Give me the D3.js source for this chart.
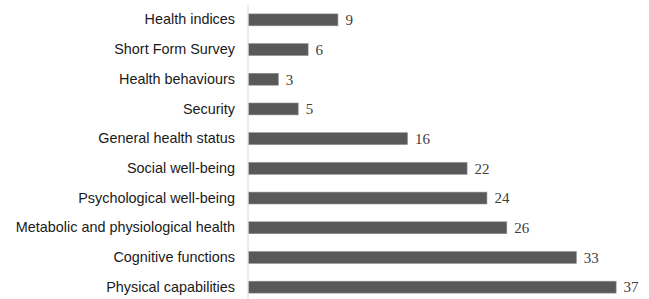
<!DOCTYPE html>
<html>
<head>
<meta charset="utf-8">
<script src="https://cdn.jsdelivr.net/npm/d3@7"></script>
<style>
  body { margin: 0; background: #fff; }
</style>
</head>
<body>
<svg></svg>
<script>
// data, top to bottom as in the chart
const categories = [
  "Health indices",
  "Short Form Survey",
  "Health behaviours",
  "Security",
  "General health status",
  "Social well-being",
  "Psychological well-being",
  "Metabolic and physiological health",
  "Cognitive functions",
  "Physical capabilities"
];
const counts = [9, 6, 3, 5, 16, 22, 24, 26, 33, 37];

const WIDTH = 649;
const HEIGHT = 299;
const X0 = 248;

let svg = d3.select('svg').attr('width', WIDTH).attr('height', HEIGHT);

let xScale = d3.scaleLinear().domain([0, 37]).range([X0, 615.6]);
let yScale = d3.scaleBand().domain(categories).range([5, 302])
  .paddingInner(0.6).paddingOuter(0.3);

// bars
svg.selectAll('rect.bar')
  .data(counts)
  .join('rect')
  .attr('class', 'bar')
  .attr('x', xScale(0) + 0.5)
  .attr('y', (d, i) => yScale(categories[i]))
  .attr('width', d => xScale(d) - xScale(0))
  .attr('height', yScale.bandwidth())
  .style('fill', '#595959')
  .style('stroke', '#8c8c8c')
  .style('stroke-width', 0.6);

// value labels
svg.selectAll('text.val')
  .data(counts)
  .join('text')
  .attr('class', 'val')
  .attr('x', d => xScale(d) + 8)
  .attr('y', (d, i) => yScale(categories[i]) + yScale.bandwidth() / 2)
  .attr('dy', '0.35em')
  .style('font-family', '"Liberation Serif", serif')
  .style('font-size', '15px')
  .style('fill', '#404040')
  .text(d => d);

// category axis
let yAxis = d3.axisLeft(yScale).tickSize(0).tickPadding(13);
let g = svg.append('g').attr('transform', `translate(${X0},0)`).call(yAxis);
g.select('.domain').remove();
g.selectAll('text')
  .style('font-family', '"Liberation Sans", Arial, sans-serif')
  .style('font-size', '14.4px')
  .style('fill', '#1a1a1a');

svg.append('line')
  .attr('x1', X0).attr('x2', X0)
  .attr('y1', 5).attr('y2', HEIGHT)
  .style('stroke', '#d9d9d9')
  .style('stroke-width', 1);
</script>
</body>
</html>
